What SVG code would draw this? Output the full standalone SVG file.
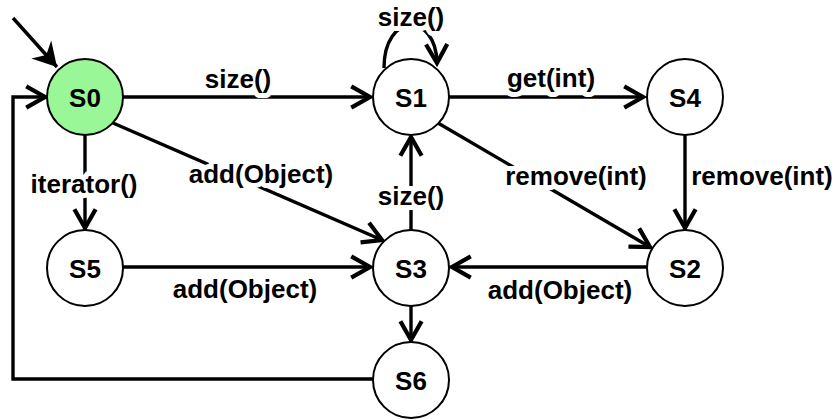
<svg xmlns="http://www.w3.org/2000/svg" width="836" height="419" viewBox="0 0 836 419">
<style>
.node circle{fill:#fff;stroke:#000;stroke-width:2}
.node text,.lbl{font-family:"Liberation Sans",Arial,sans-serif;font-weight:bold;font-size:26px;text-anchor:middle;fill:#000}
.lbl{paint-order:stroke;stroke:#fff;stroke-width:10px;stroke-linejoin:round}
.edge{fill:none;stroke:#000;stroke-width:3.4}
</style>
<defs>
<marker id="v" markerUnits="userSpaceOnUse" markerWidth="30" markerHeight="30" refX="0" refY="0" viewBox="-18 -12 22 24" orient="auto" overflow="visible">
<path d="M-15,-8.5 L0,0 L-15,8.5" fill="none" stroke="#000" stroke-width="3.4" stroke-linejoin="miter"/>
</marker>
<marker id="f" markerUnits="userSpaceOnUse" markerWidth="30" markerHeight="30" refX="0" refY="0" viewBox="-24 -14 28 28" orient="auto" overflow="visible">
<path d="M0,0 L-22,-12.5 L-15,0 L-22,12.5 Z" fill="#000"/>
</marker>
</defs>
<rect width="836" height="419" fill="#fff"/>
<g id="connectors">
<path class="edge" d="M13,18 L57,67" marker-end="url(#f)"/>
<path class="edge" d="M123,97 L370,97" marker-end="url(#v)"/>
<path class="edge" d="M113,123 L382,240" marker-end="url(#v)"/>
<path class="edge" d="M85,135 L85,228" marker-end="url(#v)"/>
<path class="edge" d="M123,267 L370,267" marker-end="url(#v)"/>
<path class="edge" d="M411,230 L411,137" marker-end="url(#v)"/>
<path class="edge" d="M384,68 C384,12 436,12 437,63" marker-end="url(#v)"/>
<path class="edge" d="M449,97 L643,97" marker-end="url(#v)"/>
<path class="edge" d="M438,123 L650,247" marker-end="url(#v)"/>
<path class="edge" d="M685,135 L685,228" marker-end="url(#v)"/>
<path class="edge" d="M647,267 L452,267" marker-end="url(#v)"/>
<path class="edge" d="M411,306 L411,340" marker-end="url(#v)"/>
<path class="edge" d="M373,379 L13,379 L13,97 L45,97" marker-end="url(#v)"/>
<text class="lbl" x="238" y="88">size()</text>
<text class="lbl" x="261" y="183">add(Object)</text>
<text class="lbl" x="84" y="193">iterator()</text>
<text class="lbl" x="245" y="298">add(Object)</text>
<text class="lbl" x="411" y="205">size()</text>
<text class="lbl" x="411" y="26">size()</text>
<text class="lbl" x="551" y="87">get(int)</text>
<text class="lbl" x="576" y="185">remove(int)</text>
<text class="lbl" x="762" y="185">remove(int)</text>
<text class="lbl" x="560" y="299">add(Object)</text>
</g>
<g id="S0" class="node"><circle cx="85" cy="97" r="38" style="fill:#99f797"/><text x="85" y="106.5">S0</text></g>
<g id="S1" class="node"><circle cx="411" cy="97" r="38"/><text x="411" y="106.5">S1</text></g>
<g id="S4" class="node"><circle cx="685" cy="97" r="38"/><text x="685" y="106.5">S4</text></g>
<g id="S5" class="node"><circle cx="85" cy="268" r="38"/><text x="85" y="277.5">S5</text></g>
<g id="S3" class="node"><circle cx="411" cy="268" r="38"/><text x="411" y="277.5">S3</text></g>
<g id="S2" class="node"><circle cx="685" cy="268" r="38"/><text x="685" y="277.5">S2</text></g>
<g id="S6" class="node"><circle cx="411" cy="380" r="38"/><text x="411" y="389.5">S6</text></g>
</svg>
